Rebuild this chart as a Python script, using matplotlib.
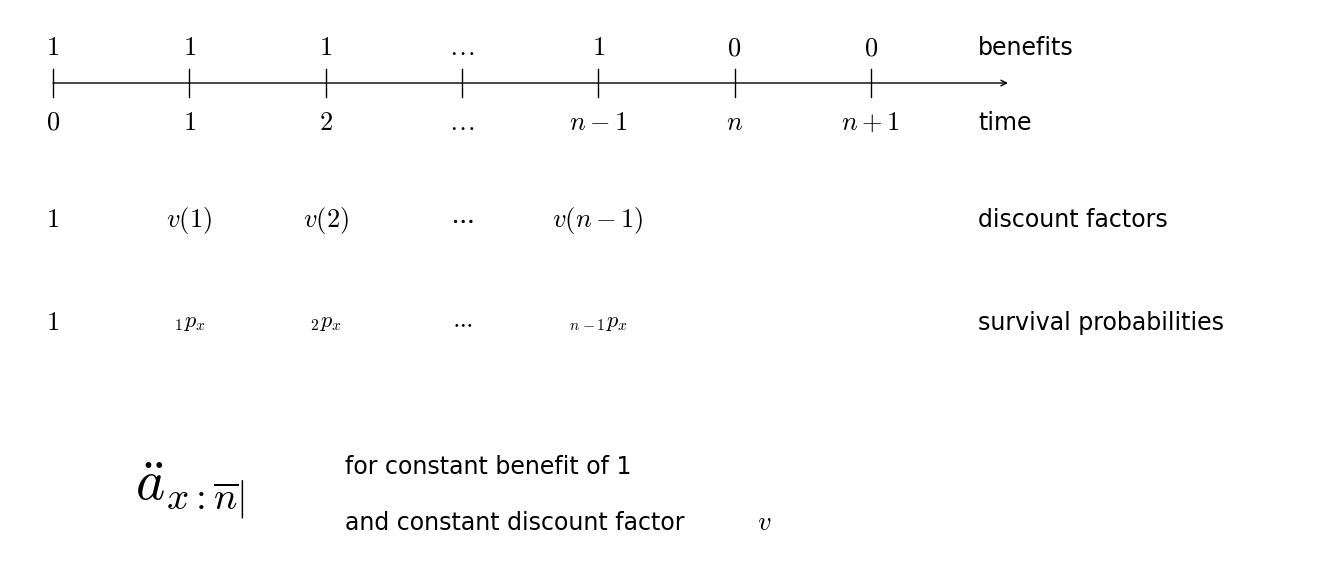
import matplotlib
matplotlib.use("Agg")
import matplotlib.pyplot as plt

plt.rcParams['mathtext.fontset'] = 'cm'

benefits = ["1", "1", "1", r"$\ldots$", "1", "0", "0"]
times = ["$0$", "$1$", "$2$", r"$\ldots$", "$n-1$", "$n$", "$n+1$"]
discounts = ["$1$", "$v(1)$", "$v(2)$", r"$\cdots$", "$v(n-1)$"]
survival = ["$1$", "${}_{1}p_x$", "${}_{2}p_x$", r"$\cdots$", "${}_{n-1}p_x$"]
row_labels = ["benefits", "time", "discount factors", "survival probabilities"]

fig = plt.figure(figsize=(13.26, 5.62), dpi=100)
ax = fig.add_axes([0, 0, 1, 1])
ax.set_xlim(0, 1326)
ax.set_ylim(562, 0)
ax.axis('off')

x0, dx = 53, 136.3
xs = [x0 + i * dx for i in range(len(times))]

ax.annotate("", xy=(1008, 83), xytext=(53, 83),
            arrowprops=dict(arrowstyle='->', lw=1.0, color='black', shrinkA=0, shrinkB=0))
for x in xs:
    ax.plot([x, x], [69, 97], color='black', lw=1.0)

fs = 19
for x, b in zip(xs, benefits):
    ax.text(x, 48, b if b.startswith('$') else f"${b}$", ha='center', va='center', fontsize=fs)
for x, t in zip(xs, times):
    ax.text(x, 123, t, ha='center', va='center', fontsize=fs)
for x, d in zip(xs, discounts):
    ax.text(x, 220, d, ha='center', va='center', fontsize=fs)
for x, s in zip(xs, survival):
    ax.text(x, 323, s, ha='center', va='center', fontsize=fs if s == "$1$" else 16)

for y, lab in zip([48, 123, 220, 323], row_labels):
    ax.text(978, y, lab, ha='left', va='center', fontsize=17, family='DejaVu Sans')

ax.text(190, 490, r"$\ddot{a}_{x:\overline{n}|}$", ha='center', va='center', fontsize=40)
ax.text(345, 467, "for constant benefit of 1", ha='left', va='center', fontsize=17, family='DejaVu Sans')
ax.text(345, 523, "and constant discount factor ", ha='left', va='center', fontsize=17, family='DejaVu Sans')
ax.text(757, 523, "$v$", ha='left', va='center', fontsize=19)

fig.savefig("out.png", dpi=100)
